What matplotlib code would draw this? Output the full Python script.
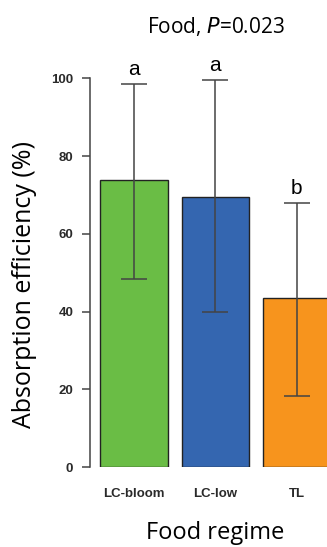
import matplotlib.pyplot as plt
import numpy as np

regimes = ["LC-bloom", "LC-low", "TL"]
means = [73.8, 69.4, 43.4]
upper = [98.5, 99.5, 67.9]
lower = [48.3, 39.8, 18.3]
letters = ["a", "a", "b"]
colors = ["#6abd45", "#3466b0", "#f7941d"]

fig = plt.figure(figsize=(3.27, 5.47), dpi=100)
ax = fig.add_axes([0.275, 0.146, 0.725, 0.711])

x = np.arange(len(regimes))
m = np.array(means)
yerr = [m - np.array(lower), np.array(upper) - m]
ax.bar(x, means, width=0.83, color=colors, edgecolor="#222222", linewidth=1)
ax.errorbar(x, means, yerr=yerr, fmt="none", ecolor="#444444", elinewidth=1.1,
            capsize=9.7, capthick=1.1)
for xi, top, lab in zip(x, upper, letters):
    ax.text(xi, top + 1.2, lab, ha="center", va="bottom", fontsize=15,
            family="Liberation Sans", clip_on=False)

ax.set_xlim(-0.54, 2.37)
ax.set_ylim(0, 100)
for s in ["top", "right", "bottom"]:
    ax.spines[s].set_visible(False)
ax.spines["left"].set_color("#444444")
ax.spines["left"].set_linewidth(1.1)
ax.set_yticks(np.arange(0, 101, 20))
ax.set_yticklabels([str(v) for v in range(0, 101, 20)], fontsize=9.5,
                   fontweight="bold", color="#2a2a2a", family="Liberation Sans")
ax.tick_params(axis="y", length=6, width=1.1, color="#444444", pad=6)
ax.set_xticks(x)
ax.set_xticklabels(regimes, fontsize=9.5, fontweight="bold", color="#2a2a2a",
                   family="Liberation Sans")
ax.tick_params(axis="x", length=0, pad=15)

fig.text(0.076, 0.48, "Absorption efficiency (%)", rotation=90, ha="center",
         va="center", fontsize=18, family="Open Sans")
fig.text(0.658, 1 - 533 / 547, "Food regime", ha="center", va="center",
         fontsize=17, family="Open Sans")
fig.text(0.66, 0.952, r"Food, $\it{P}$=0.023", ha="center", va="center",
         fontsize=15, family="Open Sans")

fig.savefig("out.png", dpi=100)
